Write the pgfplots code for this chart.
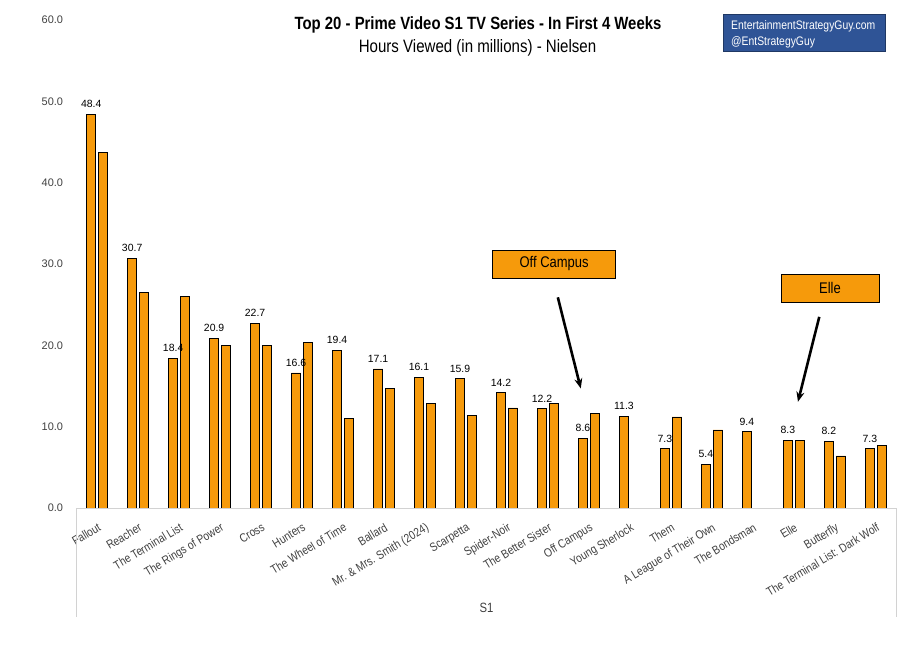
\documentclass[border=0pt]{standalone}
\usepackage{pgfplots}
\pgfplotsset{compat=1.18}
\usetikzlibrary{arrows.meta}
\usepackage{fontspec}
\setmainfont[FakeStretch=0.84]{Liberation Sans}
\newfontfamily\arial{Liberation Sans}
\definecolor{barorange}{RGB}{246,154,11}
\definecolor{boxblue}{RGB}{47,84,150}
\definecolor{boxborder}{RGB}{31,56,100}
\definecolor{ticktext}{RGB}{64,64,64}
\begin{document}
\begin{tikzpicture}
\useasboundingbox (0,0) rectangle (913bp,651bp);
% titles
\node[font=\bfseries\fontsize{17.8}{20}\selectfont, anchor=base] at (478bp,{651bp-29.3bp}) {Top 20 - Prime Video S1 TV Series - In First 4 Weeks};
\node[font=\fontsize{18}{20}\selectfont, anchor=base] at (477.5bp,{651bp-52.3bp}) {Hours Viewed (in millions) - Nielsen};
\draw[fill=boxblue, draw=boxborder, line width=0.8bp] (723.3bp,{651bp-14bp}) rectangle (885.7bp,{651bp-51.7bp});
\node[font=\fontsize{12.4}{14}\selectfont, text=white, anchor=base west, inner sep=0] at (731bp,{651bp-30bp}) {EntertainmentStrategyGuy.com};
\node[font=\fontsize{12.4}{14}\selectfont, text=white, anchor=base west, inner sep=0] at (731bp,{651bp-45.7bp}) {@EntStrategyGuy};
\begin{axis}[
  at={(76.7bp,143bp)}, anchor=south west,
  scale only axis, width=819.6bp, height=488bp,
  xmin=-0.5, xmax=19.5, ymin=0, ymax=60,
  enlargelimits=false, clip=false,
  ybar, bar width=9.4bp,
  axis line style={draw=none},
  tick style={draw=none},
  ytick={0,10,20,30,40,50,60},
  yticklabel style={font=\arial\fontsize{11}{13}\selectfont, text=ticktext, /pgf/number format/fixed, /pgf/number format/precision=1, /pgf/number format/fixed zerofill, inner sep=0, xshift=-13.5bp},
  /pgf/number format/assume math mode=true,
  xtick={0,...,19},
  xticklabels={Fallout, Reacher, The Terminal List, The Rings of Power, Cross, Hunters, The Wheel of Time, Ballard, Mr. \& Mrs. Smith (2024), Scarpetta, Spider-Noir, The Better Sister, Off Campus, Young Sherlock, Them, A League of Their Own, The Bondsman, Elle, Butterfly, The Terminal List: Dark Wolf},
  xticklabel style={font=\fontsize{12.2}{14}\selectfont, text=ticktext, rotate=31, anchor=north east, inner sep=0},
  xticklabel shift=10bp,
]
\addplot[fill=barorange, draw=black, line width=0.8bp, bar shift=-6bp,
  nodes near coords, nodes near coords align={vertical},
  every node near coord/.append style={font=\arial\fontsize{10.5}{12}\selectfont, text=black, anchor=south, inner sep=0, yshift=6bp, /pgf/number format/fixed, /pgf/number format/precision=1, /pgf/number format/fixed zerofill}]
coordinates {(0,48.4) (1,30.7) (2,18.4) (3,20.9) (4,22.7) (5,16.6) (6,19.4) (7,17.1) (8,16.1) (9,15.9) (10,14.2) (11,12.2) (12,8.6) (13,11.3) (14,7.3) (15,5.4) (16,9.4) (17,8.3) (18,8.2) (19,7.3)};
\addplot[fill=barorange, draw=black, line width=0.8bp, bar shift=6bp]
coordinates {(0,43.7) (1,26.5) (2,26.0) (3,20.0) (4,20.0) (5,20.4) (6,11.0) (7,14.7) (8,12.8) (9,11.4) (10,12.3) (11,12.9) (12,11.6) (14,11.2) (15,9.6) (17,8.3) (18,6.4) (19,7.7)};
% category box
\draw[gray!35, line width=0.8bp] (rel axis cs:0,-0.2227) -- (rel axis cs:0,0) -- (rel axis cs:1,0) -- (rel axis cs:1,-0.2227);
\node[font=\fontsize{13.5}{15}\selectfont, text=ticktext] at (rel axis cs:0.5,-0.205) {S1};
% annotations
\node[draw=black, fill=barorange, line width=0.8bp, minimum width=123bp, minimum height=28bp, font=\fontsize{15.5}{17}\selectfont, inner sep=0] at (axis cs:11.15,30.0) {Off Campus};
\draw[line width=2.6bp, -{Stealth[length=10bp,width=8bp]}] (axis cs:11.24,25.9) -- (axis cs:11.80,14.7);
\node[draw=black, fill=barorange, line width=0.8bp, minimum width=98bp, minimum height=28bp, font=\fontsize{15.5}{17}\selectfont, inner sep=0] at (axis cs:17.88,27.0) {Elle};
\draw[line width=2.6bp, -{Stealth[length=10bp,width=8bp]}] (axis cs:17.62,23.5) -- (axis cs:17.10,13.06);
\end{axis}
\end{tikzpicture}
\end{document}
